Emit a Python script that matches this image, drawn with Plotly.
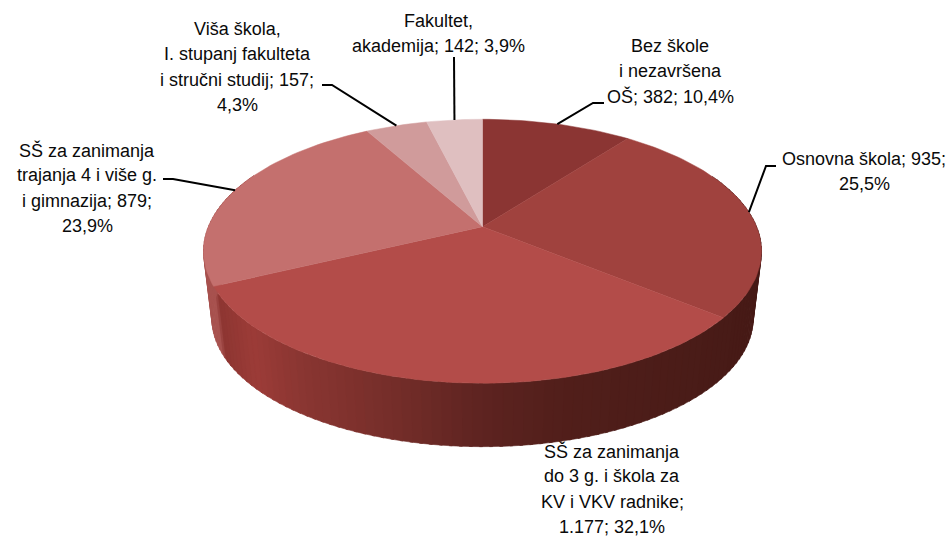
import math
import plotly.graph_objects as go

categories = ["Bez škole i nezavršena OŠ", "Osnovna škola",
              "SŠ za zanimanja do 3 g. i škola za KV i VKV radnike",
              "SŠ za zanimanja trajanja 4 i više g. i gimnazija",
              "Viša škola, I. stupanj fakulteta i stručni studij",
              "Fakultet, akademija"]
values = [382, 935, 1177, 879, 157, 142]
top_colors = ["#8b3533", "#a0423e", "#b34c49", "#c4706e", "#d09b9b", "#dfbfc0"]
label_lines = [
    ["Bez škole", "i nezavršena", "OŠ; 382; 10,4%"],
    ["Osnovna škola; 935;", "25,5%"],
    ["SŠ za zanimanja", "do 3 g. i škola za", "KV i VKV radnike;", "1.177; 32,1%"],
    ["SŠ za zanimanja", "trajanja 4 i više g.", "i gimnazija; 879;", "23,9%"],
    ["Viša škola,", "I. stupanj fakulteta", "i stručni studij; 157;", "4,3%"],
    ["Fakultet,", "akademija; 142; 3,9%"],
]
label_x = [670, 864, 612, 87, 237, 438]
label_y0 = [46, 159, 451, 150, 29, 21]
LINE_H = 25.3
# leader: label-side elbow points, then ends at the slice's mid rim point
leaders = [[(604, 103), (593, 103)], [(776, 166), (766, 166)], None,
           [(163, 179), (173, 179)], [(322, 85), (332, 85)], [(454, 57)]]

CX, APEX_Y, A, B, K = 482.5, 226.7, 274.1, 127.4, 0.186
SCALE_BOT, YC_TOP, YC_BOT = 0.97, 251.3, 318.7
total = sum(values)


def rim(frac):
    t = 2 * math.pi * frac
    u, v = math.sin(t), math.cos(t)
    d = 1 + K * v
    return CX + A * u / d, APEX_Y - B * v / d


def rim_bottom(frac):
    x, y = rim(frac)
    return CX + SCALE_BOT * (x - CX), YC_BOT + SCALE_BOT * (y - YC_TOP)


def mix(stops, x):
    for (x0, c0), (x1, c1) in zip(stops, stops[1:]):
        if x <= x1:
            f = max(0, (x - x0) / (x1 - x0))
            return "rgb(%d,%d,%d)" % tuple(c0[i] + (c1[i] - c0[i]) * f for i in range(3))
    return "rgb(%d,%d,%d)" % stops[-1][1]


side_stops = [(203, (168, 82, 79)), (214, (168, 82, 79)), (217, (142, 54, 50)),
              (250, (156, 60, 56)), (300, (138, 54, 50)), (400, (115, 45, 41)),
              (480, (94, 36, 33)), (560, (82, 31, 27)), (700, (74, 28, 24)), (762, (70, 26, 22))]

fig = go.Figure()
N = 130
f0, f1 = 0.18, 0.82
for i in range(N):
    a = f0 + (f1 - f0) * i / N
    b = f0 + (f1 - f0) * (i + 1.3) / N
    p1, p2, p3, p4 = rim(a), rim(b), rim_bottom(b), rim_bottom(a)
    col = mix(side_stops, (p1[0] + p2[0]) / 2)
    fig.add_trace(go.Scatter(x=[p1[0], p2[0], p3[0], p4[0], p1[0]],
                             y=[p1[1], p2[1], p3[1], p4[1], p1[1]],
                             mode="lines", fill="toself", fillcolor=col,
                             line=dict(width=0.6, color=col), hoverinfo="skip", showlegend=False))

cum = 0
for val, col, name in zip(values, top_colors, categories):
    a, b = cum / total, (cum + val) / total
    n = max(6, int(240 * (b - a)))
    pts = [rim(a + (b - a) * j / n) for j in range(n + 1)]
    xs = [CX] + [p[0] for p in pts] + [CX]
    ys = [APEX_Y] + [p[1] for p in pts] + [APEX_Y]
    fig.add_trace(go.Scatter(x=xs, y=ys, mode="lines", fill="toself", fillcolor=col,
                             line=dict(width=0.5, color=col), name=name, hoverinfo="name",
                             showlegend=False))
    cum += val

cum = 0
for val, lead in zip(values, leaders):
    mid = (cum + val / 2) / total
    cum += val
    if lead is None:
        continue
    end = rim(mid)
    pts = list(lead) + [end]
    fig.add_trace(go.Scatter(x=[p[0] for p in pts], y=[p[1] for p in pts], mode="lines",
                             line=dict(color="#000000", width=2), hoverinfo="skip", showlegend=False))

for lines, lx, ly in zip(label_lines, label_x, label_y0):
    for j, line in enumerate(lines):
        fig.add_annotation(x=lx, y=ly + j * LINE_H, text=line, showarrow=False,
                           xanchor="center", yanchor="middle",
                           font=dict(family="Liberation Sans", size=18, color="#0a0a0a"))

fig.update_layout(width=951, height=536, margin=dict(l=0, r=0, t=0, b=0),
                  paper_bgcolor="white", plot_bgcolor="white", showlegend=False,
                  xaxis=dict(range=[0, 951], visible=False, fixedrange=True),
                  yaxis=dict(range=[536, 0], visible=False, fixedrange=True))
fig.write_html("out.html", config={"displayModeBar": False},
               post_script="document.body.style.margin='0';document.documentElement.style.overflow='hidden';")
